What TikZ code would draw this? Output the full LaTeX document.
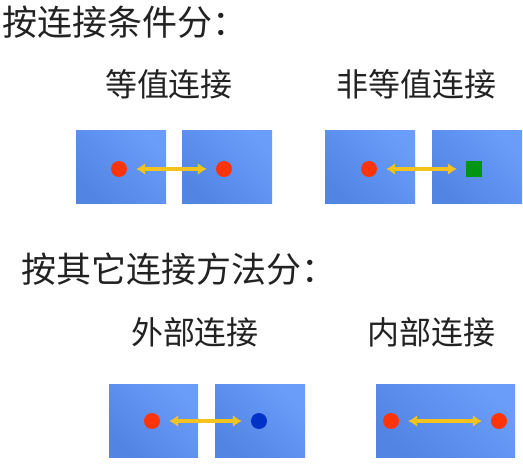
\documentclass[tikz,border=0pt]{standalone}
\usepackage{fontspec}
\newfontfamily\cjk{Noto Sans CJK SC}
\usetikzlibrary{arrows.meta}
\definecolor{txt}{RGB}{34,34,34}
\definecolor{boxdark}{RGB}{82,132,228}
\definecolor{boxlight}{RGB}{106,156,250}
\definecolor{dotred}{RGB}{255,52,8}
\definecolor{dotgreen}{RGB}{0,150,20}
\definecolor{dotblue}{RGB}{0,50,200}
\definecolor{arrowyellow}{RGB}{245,195,30}
\tikzset{
  heading/.style={font=\cjk\fontsize{35}{37}\selectfont, text=txt, inner sep=0pt, anchor=west},
  subheading/.style={font=\cjk\fontsize{32}{34}\selectfont, text=txt, inner sep=0pt, anchor=center},
  panel/.style={rectangle, draw=none, inner sep=0pt, left color=boxdark, right color=boxlight, shading angle=135},
  reddot/.style={circle, fill=dotred, minimum size=16pt, inner sep=0pt},
  bluedot/.style={circle, fill=dotblue, minimum size=16pt, inner sep=0pt},
  greensq/.style={rectangle, fill=dotgreen, minimum size=16pt, inner sep=0pt},
  link/.style={draw=arrowyellow, line width=3.5pt, {Latex[length=9pt,width=12pt]}-{Latex[length=9pt,width=12pt]}, shorten <=9pt, shorten >=9pt}
}
\begin{document}
\begin{tikzpicture}[x=1pt,y=-1pt]
\useasboundingbox (0,0) rectangle (523,465);
% headings
\node[heading] (h1) at (2,22) {按连接条件分：};
\node[heading] (h2) at (21,269) {按其它连接方法分：};
% subheadings
\node[subheading] (s1) at (169,84) {等值连接};
\node[subheading] (s2) at (416,84) {非等值连接};
\node[subheading] (s3) at (195,332) {外部连接};
\node[subheading] (s4) at (431,332) {内部连接};
% panels
\node[panel, minimum width=90pt, minimum height=73pt] (p1) at (121,167.5) {};
\node[panel, minimum width=90pt, minimum height=73pt] (p2) at (227,167.5) {};
\node[panel, minimum width=90pt, minimum height=73pt] (p3) at (370,167.5) {};
\node[panel, minimum width=90pt, minimum height=73pt] (p4) at (477,167.5) {};
\node[panel, minimum width=89pt, minimum height=73pt] (p5) at (153.5,421.5) {};
\node[panel, minimum width=90pt, minimum height=73pt] (p6) at (260,421.5) {};
\node[panel, minimum width=139pt, minimum height=73pt] (p7) at (445.5,421.5) {};
% markers
\node[reddot] (d1) at (119,169) {};
\node[reddot] (d2) at (224,169) {};
\node[reddot] (d3) at (369,169) {};
\node[greensq] (d4) at (474,169) {};
\node[reddot] (d5) at (152,421) {};
\node[bluedot] (d6) at (259,421) {};
\node[reddot] (d7) at (391,421) {};
\node[reddot] (d8) at (499,421) {};
% connectors
\draw[link] (d1) -- (d2);
\draw[link] (d3) -- (d4);
\draw[link] (d5) -- (d6);
\draw[link] (d7) -- (d8);
\end{tikzpicture}
\end{document}
